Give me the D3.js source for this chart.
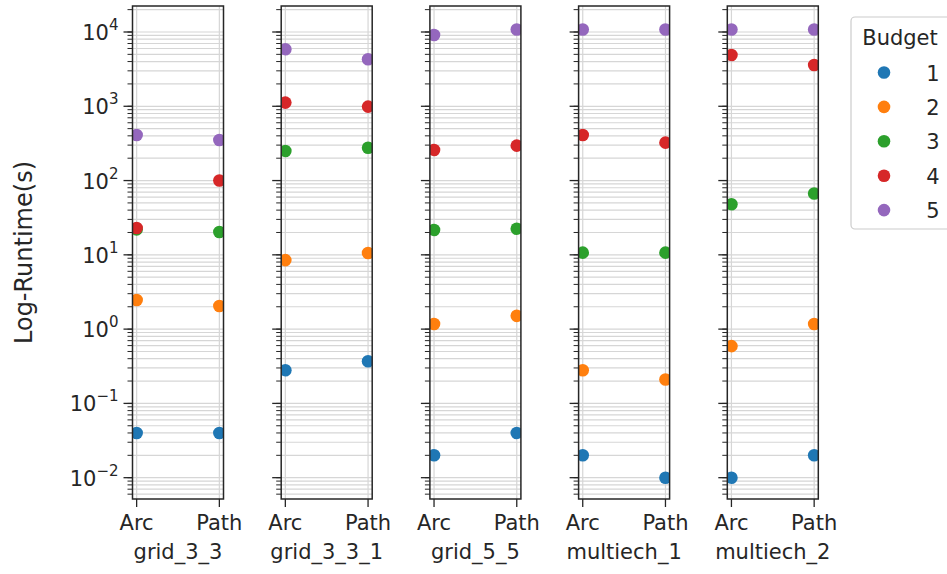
<!DOCTYPE html>
<html lang="en">
<head>
    <meta charset="UTF-8">
    <title>Log runtime by budget</title>
    <style>
        body { margin: 0; background: #fff; }
        text { font-family: "DejaVu Sans", sans-serif; fill: #262626; }
    </style>
</head>
<body>
    <div id="chart"></div>
    <script src="https://d3js.org/d3.v7.min.js"></script>
    <script>
        // data
        const instances = ["grid_3_3", "grid_3_3_1", "grid_5_5", "multiech_1", "multiech_2"];
        const methods = ["Arc", "Path"];
        const budgets = [1, 2, 3, 4, 5];
        const colors = ["#1f77b4", "#ff7f0e", "#2ca02c", "#d62728", "#9467bd"];

        // runtime (s) per budget, one value per instance
        const arcRuntime = [
            [0.04, 0.28, 0.02, 0.02, 0.01],
            [2.47, 8.5, 1.17, 0.28, 0.59],
            [22, 250, 21.6, 10.7, 48],
            [23, 1120, 258, 411, 4900],
            [411, 5850, 9100, 10800, 10800]
        ];
        const pathRuntime = [
            [0.04, 0.37, 0.04, 0.01, 0.02],
            [2.05, 10.6, 1.51, 0.21, 1.17],
            [20.3, 277, 22.5, 10.7, 67],
            [100, 990, 295, 324, 3600],
            [352, 4290, 10800, 10800, 10800]
        ];
        const yTickExps = [-2, -1, 0, 1, 2, 3, 4];

        const W = 947, H = 574;
        const panelLeft = 132.5, panelW = 91, panelStep = 148.7;
        const plotTop = 6, plotBottom = 499;
        const fs = 21;

        const svg = d3.select("#chart").append("svg")
            .attr("width", W).attr("height", H);

        const y = d3.scaleLog()
            .domain([Math.pow(10, -2.287), Math.pow(10, 4.35)])
            .range([plotBottom, plotTop]);

        // minor tick values 1..9 x 10^k
        const minorVals = [];
        for (let e = -3; e <= 4; e++) {
            for (let m = 1; m <= 9; m++) {
                const v = m * Math.pow(10, e);
                if (v >= y.domain()[0] && v <= y.domain()[1]) minorVals.push(v);
            }
        }

        instances.forEach((name, p) => {
            const x0 = panelLeft + p * panelStep;
            const x = d3.scaleLinear().domain([-0.05, 1.05]).range([x0, x0 + panelW]);
            const g = svg.append("g");

            g.append("clipPath").attr("id", "clip" + p)
                .append("rect")
                .attr("x", x0).attr("y", plotTop)
                .attr("width", panelW).attr("height", plotBottom - plotTop);

            // grid
            g.selectAll(".hgrid").data(minorVals).join("line")
                .attr("x1", x0).attr("x2", x0 + panelW)
                .attr("y1", d => y(d)).attr("y2", d => y(d))
                .attr("stroke", "#d6d6d6").attr("stroke-width", 1.2);
            g.selectAll(".vgrid").data(methods).join("line")
                .attr("x1", (d, i) => x(i)).attr("x2", (d, i) => x(i))
                .attr("y1", plotTop).attr("y2", plotBottom)
                .attr("stroke", "#d6d6d6").attr("stroke-width", 1.2);

            // y ticks
            g.selectAll(".minor").data(minorVals).join("line")
                .attr("x1", x0 - 5).attr("x2", x0)
                .attr("y1", d => y(d)).attr("y2", d => y(d))
                .attr("stroke", "#262626").attr("stroke-width", 1);
            g.selectAll(".major").data(yTickExps).join("line")
                .attr("x1", x0 - 9).attr("x2", x0)
                .attr("y1", d => y(Math.pow(10, d))).attr("y2", d => y(Math.pow(10, d)))
                .attr("stroke", "#262626").attr("stroke-width", 1.3);

            if (p === 0) {
                const lab = g.selectAll(".ylab").data(yTickExps).join("text")
                    .attr("x", x0 - 14)
                    .attr("y", d => y(Math.pow(10, d)) + 8)
                    .attr("text-anchor", "end")
                    .style("font-size", fs + "px");
                lab.append("tspan").text("10");
                lab.append("tspan")
                    .attr("dy", -10)
                    .style("font-size", "15px")
                    .text(d => String(d).replace("-", "\u2212"));
            }

            // x ticks and labels
            methods.forEach((m, i) => {
                g.append("line")
                    .attr("x1", x(i)).attr("x2", x(i))
                    .attr("y1", plotBottom).attr("y2", plotBottom + 8)
                    .attr("stroke", "#262626").attr("stroke-width", 1.3);
                g.append("text")
                    .attr("x", x(i)).attr("y", plotBottom + 31)
                    .attr("text-anchor", "middle")
                    .style("font-size", fs + "px")
                    .text(m);
            });
            g.append("text")
                .attr("x", x0 + panelW / 2).attr("y", plotBottom + 60)
                .attr("text-anchor", "middle")
                .style("font-size", fs + "px")
                .text(name);

            // points
            const pts = g.append("g").attr("clip-path", "url(#clip" + p + ")");
            budgets.forEach((b, bi) => {
                const vals = [arcRuntime[bi][p], pathRuntime[bi][p]];
                pts.selectAll(".b" + b).data(vals).join("circle")
                    .attr("cx", (d, i) => x(i))
                    .attr("cy", d => y(d))
                    .attr("r", 6.3)
                    .attr("fill", colors[bi]);
            });

            // frame
            g.append("rect")
                .attr("x", x0).attr("y", plotTop)
                .attr("width", panelW).attr("height", plotBottom - plotTop)
                .attr("fill", "none").attr("stroke", "#262626").attr("stroke-width", 1.5);
        });

        svg.append("text")
            .attr("transform", "translate(32," + ((plotTop + plotBottom) / 2) + ") rotate(-90)")
            .attr("text-anchor", "middle")
            .style("font-size", "24px")
            .text("Log-Runtime(s)");

        // legend
        const leg = svg.append("g");
        leg.append("rect")
            .attr("x", 851).attr("y", 17).attr("width", 130).attr("height", 212)
            .attr("rx", 4)
            .attr("fill", "#fff").attr("stroke", "#cccccc").attr("stroke-width", 1.2);
        leg.append("text")
            .attr("x", 900).attr("y", 45)
            .attr("text-anchor", "middle")
            .style("font-size", fs + "px")
            .text("Budget");
        budgets.forEach((b, i) => {
            const cy = 72.5 + i * 34.4;
            leg.append("circle")
                .attr("cx", 884).attr("cy", cy).attr("r", 6.3)
                .attr("fill", colors[i]);
            leg.append("text")
                .attr("x", 933).attr("y", cy + 8)
                .attr("text-anchor", "middle")
                .style("font-size", fs + "px")
                .text(b);
        });
    </script>
</body>
</html>
